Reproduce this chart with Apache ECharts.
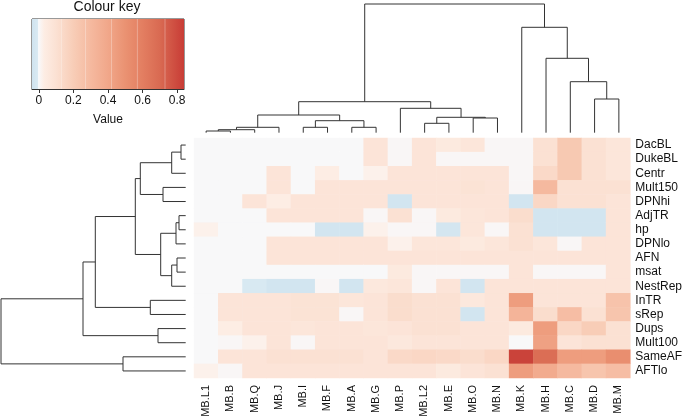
<!DOCTYPE html>
<html><head><meta charset="utf-8">
<script src="https://cdn.jsdelivr.net/npm/echarts@6/dist/echarts.min.js"></script>
<style>html,body{margin:0;padding:0;background:#fff}#c{width:685px;height:420px}</style>
</head><body><div id="c"></div>
<script>
// ---- categories ----
const colLabels = ['MB.L1','MB.B','MB.Q','MB.J','MB.I','MB.F','MB.A','MB.G','MB.P','MB.L2','MB.E','MB.O','MB.N','MB.K','MB.H','MB.C','MB.D','MB.M'];
const rowLabels = ['DacBL','DukeBL','Centr','Mult150','DPNhi','AdjTR','hp','DPNlo','AFN','msat','NestRep','InTR','sRep','Dups','Mult100','SameAF','AFTlo'];

// ---- heatmap values, one array per row (columns in colLabels order) ----
const vDacBL   = [0,0,0,0,0,0,0,0.08,0.005,0.08,0.05,0.07,0.005,0.005,0.1,0.22,0.1,0.07];
const vDukeBL  = [0,0,0,0,0,0,0,0.08,0.005,0.08,0.005,0.005,0.005,0.005,0.1,0.22,0.1,0.07];
const vCentr   = [0,0,0,0.08,0,0.03,0,0.02,0.08,0.08,0.08,0.08,0.08,0.005,0.14,0.22,0.1,0.07];
const vMult150 = [0,0,0,0.08,0,0.08,0.08,0.08,0.08,0.08,0.08,0.09,0.08,0.005,0.3,0.1,0.1,0.1];
const vDPNhi   = [0,0,0.08,0.03,0.08,0.08,0.08,0.08,-0.03,0.08,0.08,0.08,0.08,-0.03,0.15,0.1,0.1,0.08];
const vAdjTR   = [0,0,0,0.08,0.08,0.08,0.08,0.005,0.1,0.005,0.05,0.07,0.08,0.12,-0.03,-0.03,-0.03,0.08];
const vHp      = [0.02,0,0,0,0,-0.03,-0.03,0.02,0.005,0.005,-0.025,0.07,0.005,0.1,-0.03,-0.03,-0.03,0.08];
const vDPNlo   = [0,0,0,0.08,0.08,0.08,0.08,0.08,0.02,0.07,0.07,0.05,0.07,0.1,0.07,0.005,0.08,0.08];
const vAFN     = [0,0,0,0.08,0.08,0.08,0.08,0.08,0.08,0.08,0.08,0.08,0.08,0.08,0.08,0.08,0.08,0.08];
const vMsat    = [0,0,0,0,0,0,0,0,0.05,0.005,0.005,0.005,0.005,0.08,0.005,0.005,0.005,0.08];
const vNestRep = [0,0,-0.01,-0.03,-0.03,0.005,-0.03,0.06,0.07,0.005,0.08,-0.03,0.08,0.08,0.08,0.08,0.08,0.08];
const vInTR    = [0,0.08,0.08,0.08,0.09,0.09,0.07,0.08,0.12,0.1,0.1,0.06,0.08,0.45,0.08,0.08,0.08,0.25];
const vSRep    = [0,0.08,0.08,0.08,0.09,0.09,0.005,0.08,0.12,0.1,0.1,-0.03,0.08,0.33,0.12,0.28,0.1,0.24];
const vDups    = [0,0.03,0.08,0.08,0.07,0.08,0.08,0.07,0.08,0.1,0.1,0.08,0.08,0.05,0.45,0.15,0.2,0.1];
const vMult100 = [0,0.005,0.02,0.08,0.005,0.08,0.08,0.08,0.06,0.08,0.08,0.08,0.08,0,0.43,0.08,0.1,0.1];
const vSameAF  = [0,0.08,0.08,0.1,0.1,0.1,0.1,0.08,0.14,0.15,0.14,0.12,0.15,0.82,0.68,0.45,0.45,0.52];
const vAFTlo   = [0.02,0.005,0.08,0.08,0.08,0.08,0.08,0.08,0.08,0.08,0.05,0.08,0.1,0.45,0.38,0.3,0.24,0.28];
const rowValues = [vDacBL,vDukeBL,vCentr,vMult150,vDPNhi,vAdjTR,vHp,vDPNlo,vAFN,vMsat,vNestRep,vInTR,vSRep,vDups,vMult100,vSameAF,vAFTlo];

// ---- dendrograms: [left, right, height]; strings are leaves, numbers refer to earlier merges ----
const colMerges = [
  ['MB.L1','MB.B',1.7], [0,'MB.Q',3.0], [1,'MB.J',5.4],
  ['MB.I','MB.F',5.4], ['MB.A','MB.G',5.4], [3,4,12.0], [2,5,17.7],
  ['MB.L2','MB.E',9.4], ['MB.O','MB.N',14.7], [7,8,15.4], ['MB.P',9,24.4],
  [6,10,31.0], ['MB.D','MB.M',33.7], ['MB.C',12,51.0], ['MB.H',13,74.4],
  ['MB.K',14,105.4], [11,15,128.7]
];
const rowMerges = [
  ['DacBL','DukeBL',4.7], [0,'Centr',14], ['Mult150','DPNhi',22.7], [1,2,45.4],
  ['AdjTR','hp',6.7], [4,'DPNlo',9.7], ['AFN','msat',8.7], [6,'NestRep',14],
  [5,7,25], [3,8,50.4], ['InTR','sRep',35.4], [9,10,90.4],
  ['Dups','Mult100',27.7], [11,12,102.7], ['SameAF','AFTlo',62.7], [13,14,184.7]
];

// ---- colour key ----
const keyTicks = [0,0.2,0.4,0.6,0.8];
const keyMin = -0.04, keyMax = 0.84;
const keyStops = [
  [-0.04,'#cfe3ef'],[-0.008,'#d9e9f2'],[-0.003,'#f7f8fa'],[0.003,'#f9f7f7'],[0.03,'#fdede4'],
  [0.1,'#fbe1d3'],[0.2,'#f8cdb7'],[0.3,'#f5b99f'],[0.4,'#f1a78a'],[0.5,'#ea9272'],
  [0.6,'#e37e61'],[0.7,'#d96a52'],[0.84,'#c83c36']
];
const keyBreaks = [0.13,0.27,0.42,0.57,0.73];

function hex2rgb(h){return [1,3,5].map(i=>parseInt(h.substr(i,2),16));}
function colorOf(v){
  if (v <= keyStops[0][0]) return keyStops[0][1];
  for (let k=1;k<keyStops.length;k++){
    if (v <= keyStops[k][0]){
      const [v0,c0]=keyStops[k-1],[v1,c1]=keyStops[k];
      const t=(v-v0)/(v1-v0), a=hex2rgb(c0), b=hex2rgb(c1);
      return 'rgb('+a.map((x,i)=>Math.round(x+(b[i]-x)*t)).join(',')+')';
    }
  }
  return keyStops[keyStops.length-1][1];
}

function buildDendro(leaves, merges){
  const pos={}; leaves.forEach((l,i)=>pos[l]=i+0.5);
  const cp=[],ch=[],items=[];
  merges.forEach((m,k)=>{
    const get=r=>typeof r==='number'?[cp[r],ch[r]]:[pos[r],0];
    const [a,ha]=get(m[0]),[b,hb]=get(m[1]);
    cp[k]=(a+b)/2; ch[k]=m[2];
    items.push([a,ha,b,hb,m[2]]);
  });
  return items;
}

const heatData=[];
rowValues.forEach((row,j)=>row.forEach((v,i)=>heatData.push({value:[i,j,v],itemStyle:{color:colorOf(v)}})));

const lineStyle={stroke:'#333',lineWidth:1,fill:null};
function renderTop(params,api){
  const a=api.value(0),ha=api.value(1),b=api.value(2),hb=api.value(3),h=api.value(4);
  return {type:'polyline',shape:{points:[[a,ha],[a,h],[b,h],[b,hb]].map(p=>api.coord(p))},style:lineStyle};
}
function renderLeft(params,api){
  const a=api.value(0),ha=api.value(1),b=api.value(2),hb=api.value(3),h=api.value(4);
  return {type:'polyline',shape:{points:[[ha,a],[h,a],[h,b],[hb,b]].map(p=>api.coord(p))},style:lineStyle};
}
function renderKey(params,api){
  const p0=api.coord([keyMin,1]), p1=api.coord([keyMax,0]);
  const span=keyMax-keyMin;
  const stops=keyStops.map(s=>({offset:(s[0]-keyMin)/span,color:s[1]}));
  const children=[{type:'rect',shape:{x:p0[0],y:p0[1],width:p1[0]-p0[0],height:p1[1]-p0[1]},
    style:{fill:new echarts.graphic.LinearGradient(0,0,1,0,stops)}}];
  keyBreaks.forEach(b=>{
    const q=api.coord([b,0]);
    children.push({type:'line',shape:{x1:q[0],y1:p0[1],x2:q[0],y2:p1[1]},style:{stroke:'rgba(255,255,255,0.3)',lineWidth:1}});
  });
  return {type:'group',children};
}

const FONT='Liberation Sans, Arial, sans-serif';
const chart=echarts.init(document.getElementById('c'),null,{renderer:'canvas'});
chart.setOption({
  animation:false,
  textStyle:{fontFamily:FONT},
  graphic:[{type:'text',x:107,y:7.5,style:{text:'Colour key',font:'14px '+FONT,fill:'#111',textAlign:'center',textVerticalAlign:'middle'}}],
  grid:[
    {left:194,top:138,width:437,height:240},
    {left:194,top:4,width:437,height:128.7},
    {left:1,top:138,width:184.7,height:240},
    {left:32,top:19,width:152,height:70,show:true,borderColor:'#333',borderWidth:1,backgroundColor:'transparent'}
  ],
  xAxis:[
    {gridIndex:0,type:'category',data:colLabels,position:'bottom',axisLine:{show:false},axisTick:{show:false},
     axisLabel:{interval:0,rotate:90,margin:7,fontSize:11,color:'#111',fontFamily:FONT},splitLine:{show:false}},
    {gridIndex:1,type:'value',min:0,max:colLabels.length,show:false},
    {gridIndex:2,type:'value',min:0,max:184.7,inverse:true,show:false},
    {gridIndex:3,type:'value',min:keyMin,max:keyMax,position:'bottom',
     axisLine:{show:true,lineStyle:{color:'#333'}},
     axisTick:{show:true,length:4,lineStyle:{color:'#333'},customValues:keyTicks},
     axisLabel:{customValues:keyTicks,margin:6,fontSize:12,color:'#111',fontFamily:FONT,formatter:v=>String(+v.toFixed(1))},
     splitLine:{show:false},name:'Value',nameLocation:'middle',nameGap:25,
     nameTextStyle:{fontSize:12,color:'#111',fontFamily:FONT}}
  ],
  yAxis:[
    {gridIndex:0,type:'category',data:rowLabels,inverse:true,position:'right',axisLine:{show:false},axisTick:{show:false},
     axisLabel:{interval:0,margin:5,fontSize:12,color:'#111',fontFamily:FONT},splitLine:{show:false}},
    {gridIndex:1,type:'value',min:0,max:128.7,show:false},
    {gridIndex:2,type:'value',min:0,max:rowLabels.length,inverse:true,show:false},
    {gridIndex:3,type:'value',min:0,max:1,show:false}
  ],
  series:[
    {type:'heatmap',xAxisIndex:0,yAxisIndex:0,data:heatData,itemStyle:{borderWidth:0},emphasis:{disabled:true},progressive:0},
    {type:'custom',xAxisIndex:1,yAxisIndex:1,data:buildDendro(colLabels,colMerges),renderItem:renderTop,encode:{x:[0,2],y:[1,3,4]},clip:false,silent:true},
    {type:'custom',xAxisIndex:2,yAxisIndex:2,data:buildDendro(rowLabels,rowMerges),renderItem:renderLeft,encode:{x:[1,3,4],y:[0,2]},clip:false,silent:true},
    {type:'custom',xAxisIndex:3,yAxisIndex:3,data:[[keyMin,keyMax]],renderItem:renderKey,encode:{x:[0,1]},clip:false,silent:true,z:1}
  ]
});
</script></body></html>
